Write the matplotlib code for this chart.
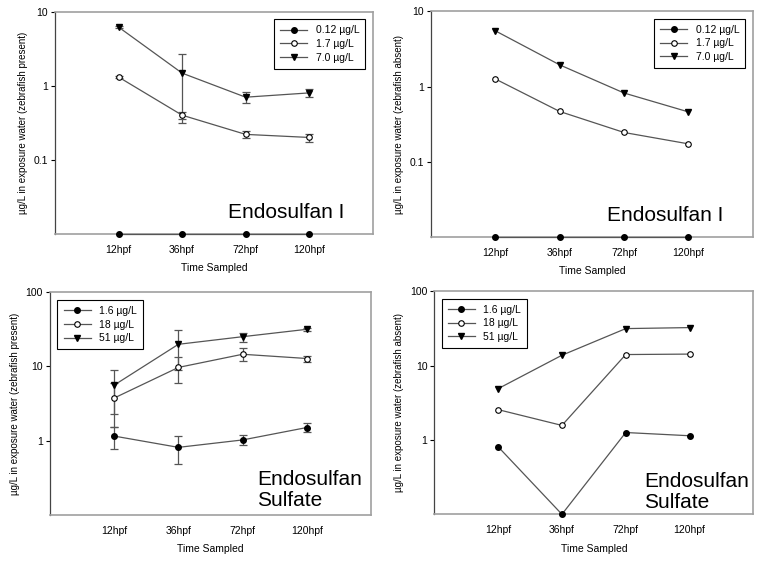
import numpy as np
import matplotlib
matplotlib.use("Agg")
import matplotlib.pyplot as plt

plt.rcParams["font.family"] = ["Liberation Sans", "DejaVu Sans"]

# Data
times = ["12hpf", "36hpf", "72hpf", "120hpf"]

# Endosulfan I (values not detected are drawn on the axis floor)
e1_labels = ["0.12 \u00b5g/L", "1.7 \u00b5g/L", "7.0 \u00b5g/L"]
e1_present = [
    [0.01, 0.01, 0.01, 0.01],
    [1.31, 0.40, 0.22, 0.20],
    [6.2, 1.48, 0.70, 0.80],
]
e1_present_sd = [
    [0, 0, 0, 0],
    [0.03, 0.04, 0.022, 0.024],
    [0.2, 1.17, 0.12, 0.10],
]
e1_absent = [
    [0.01, 0.01, 0.01, 0.01],
    [1.26, 0.466, 0.245, 0.173],
    [5.5, 1.94, 0.82, 0.46],
]

# Endosulfan sulfate
es_labels = ["1.6 \u00b5g/L", "18 \u00b5g/L", "51 \u00b5g/L"]
es_present = [
    [1.15, 0.81, 1.02, 1.50],
    [3.75, 9.7, 14.6, 12.8],
    [5.6, 19.9, 25.2, 31.7],
]
es_present_sd = [
    [0.38, 0.33, 0.16, 0.20],
    [2.23, 3.8, 2.9, 1.2],
    [3.3, 10.9, 3.5, 1.8],
]
es_absent = [
    [0.81, 0.1, 1.26, 1.14],
    [2.56, 1.57, 14.1, 14.3],
    [4.9, 13.8, 31.5, 32.5],
]

markers = [
    dict(marker="o", mfc="black", mec="black", ms=4),
    dict(marker="o", mfc="white", mec="black", ms=4, mew=0.8),
    dict(marker="v", mfc="black", mec="black", ms=4.5),
]

fig = plt.figure(figsize=(7.62, 5.64), dpi=100)
positions = [
    [0.0722, 0.5856, 0.4169, 0.3936],
    [0.5656, 0.5798, 0.4222, 0.4002],
    [0.0656, 0.0874, 0.4213, 0.3943],
    [0.5700, 0.0881, 0.4186, 0.3954],
]

panels = [
    (e1_present, e1_present_sd, e1_labels, (0.01, 10), [0.1, 1, 10],
     "zebrafish present", "Endosulfan I", "upper right"),
    (e1_absent, None, e1_labels, (0.01, 10), [0.1, 1, 10],
     "zebrafish absent", "Endosulfan I", "upper right"),
    (es_present, es_present_sd, es_labels, (0.1, 100), [1, 10, 100],
     "zebrafish present", "Endosulfan\nSulfate", "upper left"),
    (es_absent, None, es_labels, (0.1, 100), [1, 10, 100],
     "zebrafish absent", "Endosulfan\nSulfate", "upper left"),
]

x = np.arange(1, len(times) + 1)

for i, (vals, sds, labels, ylim, yticks, cond, title, loc) in enumerate(panels):
    ax = fig.add_axes(positions[i])
    handles = []
    for j in range(3):
        y = np.array(vals[j])
        if sds is not None and np.any(np.array(sds[j]) > 0):
            ax.errorbar(x, y, yerr=sds[j], fmt="none", ecolor="#555555",
                        elinewidth=0.9, capsize=3, capthick=0.9, zorder=2)
        h, = ax.plot(x, y, color="#555555", lw=0.9, clip_on=False,
                     zorder=3, label=labels[j], **markers[j])
        handles.append(h)

    ax.set_yscale("log")
    ax.set_ylim(*ylim)
    ax.set_xlim(0, 5)
    ax.set_yticks(yticks)
    ax.set_yticklabels([("%g" % t) for t in yticks])
    ax.yaxis.set_minor_locator(matplotlib.ticker.NullLocator())
    ax.set_xticks(x)
    ax.set_xticklabels(times)
    ax.tick_params(axis="x", length=0, labelsize=7.5, pad=8)
    ax.tick_params(axis="y", length=3, width=0.8, labelsize=7.5, pad=2,
                   direction="out")

    for side in ["top", "right", "bottom"]:
        ax.spines[side].set_color("#a0a0a0")
        ax.spines[side].set_linewidth(1.2)
    ax.spines["left"].set_color("#444444")
    ax.spines["left"].set_linewidth(0.9)

    ax.set_xlabel("Time Sampled", fontsize=7.5, labelpad=6)
    ax.set_ylabel("\u00b5g/L in exposure water (" + cond + ")", fontsize=7)

    if i < 2:
        ax.text(0.91, 0.07, title, transform=ax.transAxes, ha="right",
                va="baseline", fontsize=15)
    else:
        ax.text(0.645 if i == 2 else 0.657, 0.04 if i == 2 else 0.03,
                title, transform=ax.transAxes, ha="left", va="baseline",
                fontsize=15, linespacing=1.1)

    leg = ax.legend(handles=handles, loc=loc, fontsize=7.5, fancybox=False,
                    edgecolor="black", framealpha=1, handlelength=2.6,
                    borderpad=0.6, labelspacing=0.35, borderaxespad=0.7)
    leg.get_frame().set_linewidth(0.8)

plt.savefig("out.png", dpi=100)
